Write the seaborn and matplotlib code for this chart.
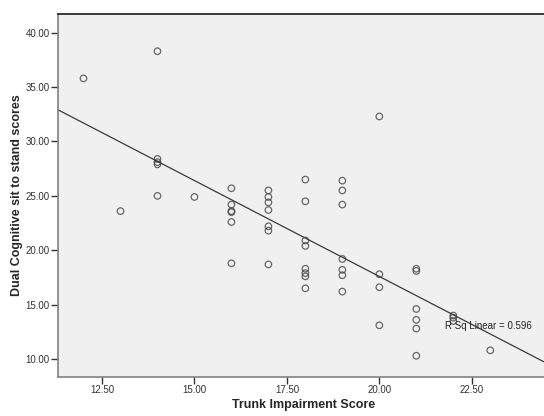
import numpy as np
import pandas as pd
import matplotlib
matplotlib.use("Agg")
import matplotlib.pyplot as plt
import seaborn as sns

# trunk impairment score (x) and dual cognitive sit-to-stand score (y)
trunk = [12, 13,
         14, 14, 14, 14, 14,
         15,
         16, 16, 16, 16, 16, 16,
         17, 17, 17, 17, 17, 17, 17,
         18, 18, 18, 18, 18, 18, 18, 18,
         19, 19, 19, 19, 19, 19, 19,
         20, 20, 20, 20,
         21, 21, 21, 21, 21, 21,
         22, 22, 22,
         23]
sts = [35.8, 23.6,
       38.3, 28.4, 28.1, 27.9, 25.0,
       24.9,
       25.7, 24.2, 23.6, 23.5, 22.6, 18.8,
       25.5, 24.9, 24.4, 23.7, 22.2, 21.8, 18.7,
       26.5, 24.5, 20.9, 20.4, 18.3, 17.9, 17.6, 16.5,
       26.4, 25.5, 24.2, 19.2, 18.2, 17.7, 16.2,
       32.3, 17.8, 16.6, 13.1,
       18.3, 18.1, 14.6, 13.6, 12.8, 10.3,
       14.0, 13.8, 13.5,
       10.8]
x_ticks = [12.5, 15.0, 17.5, 20.0, 22.5]
y_ticks = [10.0, 15.0, 20.0, 25.0, 30.0, 35.0, 40.0]
r_sq_label = "R Sq Linear = 0.596"

df = pd.DataFrame({"Trunk Impairment Score": trunk,
                   "Dual Cognitive sit to stand scores": sts})

sns.set_theme(style="white")
plt.rcParams["font.family"] = ["Liberation Sans", "DejaVu Sans"]

fig = plt.figure(figsize=(5.44, 4.16), dpi=100)
ax = fig.add_axes([0.1066, 0.0938, 0.8934 + 0.01, 0.8725])
ax.set_facecolor("#f0f0f0")
ax.set_xlim(11.31, 24.6)
ax.set_ylim(8.35, 41.72)

sns.regplot(data=df, x="Trunk Impairment Score",
            y="Dual Cognitive sit to stand scores", ax=ax,
            ci=None, truncate=False,
            scatter_kws=dict(s=22, facecolors="none", edgecolors="#444444",
                             linewidths=0.9),
            line_kws=dict(color="#3a3a3a", lw=0.9))

ax.set_xticks(x_ticks)
ax.set_yticks(y_ticks)
ax.set_xticklabels([f"{v:.2f}" for v in x_ticks])
ax.set_yticklabels([f"{v:.2f}" for v in y_ticks])
ax.tick_params(axis="both", bottom=True, left=True, labelsize=7,
               labelcolor="#333333", color="#333333", length=5,
               width=1, direction="out", pad=1)

for side in ["left", "bottom"]:
    ax.spines[side].set_color("#808080")
    ax.spines[side].set_linewidth(1.2)
ax.spines["top"].set_color("#1a1a1a")
ax.spines["top"].set_linewidth(1.2)
ax.spines["right"].set_visible(False)

ax.set_xlabel("Trunk Impairment Score", fontsize=9, fontweight="bold",
              labelpad=3, x=0.5)
ax.set_ylabel("Dual Cognitive sit to stand scores", fontsize=9,
              fontweight="bold", labelpad=2, y=0.5)

ax.text(21.77, 13.0, r_sq_label, fontsize=7, color="#222222",
        va="center", ha="left")

fig.savefig("out.png", dpi=100)
